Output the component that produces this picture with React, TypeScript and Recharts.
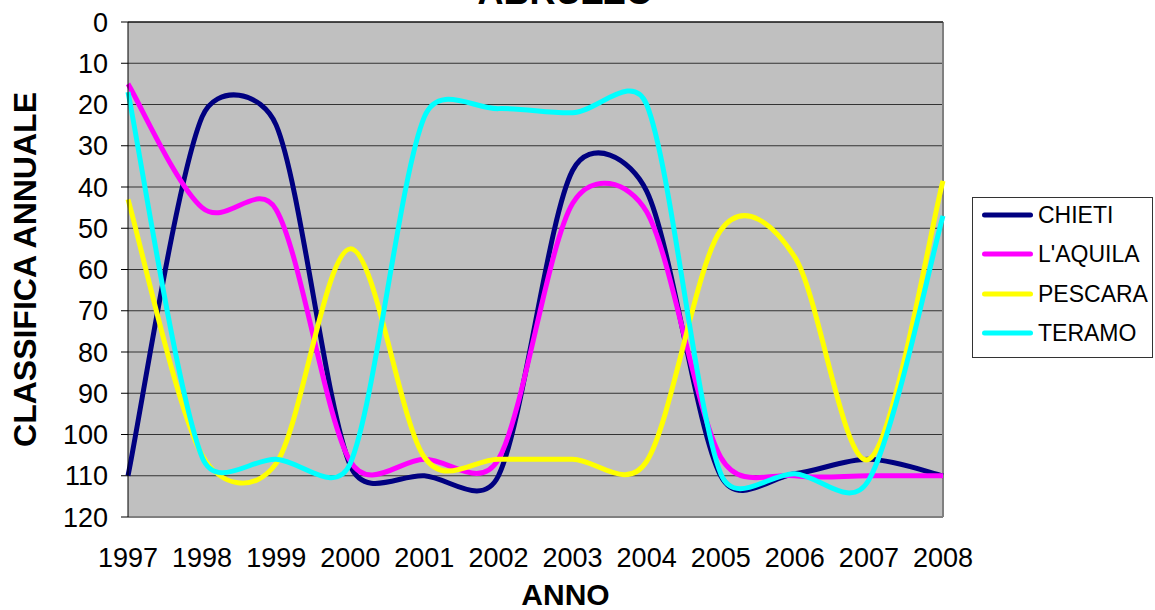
import React from 'react';
import { LineChart, Line, XAxis, YAxis, CartesianGrid, Legend, ReferenceLine } from 'recharts';

const FONT = '"Liberation Sans", Arial, Helvetica, sans-serif';

// ---- data ----
const years = ['1997', '1998', '1999', '2000', '2001', '2002', '2003', '2004', '2005', '2006', '2007', '2008'];
const chieti = [110, 23, 25, 107.5, 110, 110, 36, 41, 110, 109.5, 106, 110];
const aquila = [15, 45, 45.5, 106.5, 106, 106, 44, 46, 105.5, 110, 110, 110];
const pescara = [43, 105, 107, 55, 105.5, 106, 106, 106.5, 50.5, 57, 106, 38.5];
const teramo = [17, 105.5, 106, 107, 23, 21, 22, 20, 109.5, 109.5, 111, 47];
const yTicks = [0, 10, 20, 30, 40, 50, 60, 70, 80, 90, 100, 110, 120];
const seriesNames = ['CHIETI', "L'AQUILA", 'PESCARA', 'TERAMO'];
const seriesColors = ['#000080', '#FF00FF', '#FFFF00', '#00FFFF'];
const seriesValues = [chieti, aquila, pescara, teramo];

const data = years.map((year, i) => {
  const row: Record<string, any> = { year };
  seriesNames.forEach((n, s) => {
    row[n] = seriesValues[s][i];
  });
  return row;
});

// Excel-like smoothed line (Catmull-Rom with control-arm clamping)
function excelSmooth(context: any) {
  let pts: number[][] = [];
  const dist = (a: number[], b: number[]) => Math.hypot(b[0] - a[0], b[1] - a[1]);
  return {
    areaStart() {},
    areaEnd() {},
    lineStart() {
      pts = [];
    },
    point(x: number, y: number) {
      pts.push([+x, +y]);
    },
    lineEnd() {
      const n = pts.length;
      if (n === 0) return;
      context.moveTo(pts[0][0], pts[0][1]);
      for (let i = 0; i < n - 1; i++) {
        const p0 = pts[Math.max(0, i - 1)];
        const p1 = pts[i];
        const p2 = pts[i + 1];
        const p3 = pts[Math.min(n - 1, i + 2)];
        const d12 = dist(p1, p2);
        const d02 = dist(p0, p2);
        const d13 = dist(p1, p3);
        let f1 = 1 / 6;
        let f2 = 1 / 6;
        if (d02 > 0 && d02 / 6 >= d12 / 2) f1 = d12 / 2 / d02;
        if (d13 > 0 && d13 / 6 >= d12 / 2) f2 = d12 / 2 / d13;
        context.bezierCurveTo(
          p1[0] + f1 * (p2[0] - p0[0]),
          p1[1] + f1 * (p2[1] - p0[1]),
          p2[0] - f2 * (p3[0] - p1[0]),
          p2[1] - f2 * (p3[1] - p1[1]),
          p2[0],
          p2[1]
        );
      }
    },
  };
}

const TitleLabel = (props: any) => {
  const vb = props.viewBox || { x: 128, y: 15, width: 815, height: 7 };
  const cx = vb.x + vb.width / 2 + 30;
  return (
    <text x={cx} y={vb.y - 11} textAnchor="middle" fontSize={36} fontWeight="bold" fontFamily={FONT} fill="#000">
      ABRUZZO
    </text>
  );
};

const YTitle = (props: any) => {
  const vb = props.viewBox || { x: 0, y: 22, width: 128, height: 495 };
  const cx = vb.x + 25;
  const cy = vb.y + vb.height / 2;
  return (
    <text
      x={cx}
      y={cy}
      transform={`rotate(-90 ${cx} ${cy})`}
      textAnchor="middle"
      dominantBaseline="central"
      fontSize={32}
      fontWeight="bold"
      fontFamily={FONT}
      fill="#000"
    >
      CLASSIFICA ANNUALE
    </text>
  );
};

const XTitle = (props: any) => {
  const vb = props.viewBox || { x: 128, y: 517, width: 815, height: 93 };
  const cx = vb.x + vb.width / 2 + 30;
  return (
    <text x={cx} y={vb.y + 88} textAnchor="middle" fontSize={30} fontWeight="bold" fontFamily={FONT} fill="#000">
      ANNO
    </text>
  );
};

const LegendBox = (props: any) => {
  const payload = props.payload || [];
  return (
    <div
      style={{
        width: 181,
        height: 161,
        border: '1px solid #333',
        boxSizing: 'border-box',
        position: 'relative',
        background: '#fff',
        fontFamily: FONT,
      }}
    >
      {payload.map((p: any, i: number) => (
        <div
          key={i}
          style={{
            position: 'absolute',
            left: 9,
            top: 17 + i * 39.4 - 14,
            height: 28,
            display: 'flex',
            alignItems: 'center',
            whiteSpace: 'nowrap',
          }}
        >
          <svg width={51} height={10} style={{ display: 'block' }}>
            <line x1={2.5} y1={5} x2={48.5} y2={5} stroke={p.color} strokeWidth={5} strokeLinecap="round" />
          </svg>
          <span style={{ fontSize: 23, color: '#000', marginLeft: 5, lineHeight: '28px' }}>{p.value}</span>
        </div>
      ))}
    </div>
  );
};

export default function App() {
  return (
    <div style={{ position: 'absolute', left: 0, top: 0, width: 1155, height: 610, background: '#fff', fontFamily: FONT }}>
      <LineChart width={1155} height={610} data={data} margin={{ top: 15, right: 212, bottom: 0, left: 0 }}>
        <CartesianGrid vertical={false} stroke="#333" fill="#C0C0C0" fillOpacity={1} />
        <XAxis
          dataKey="year"
          orientation="top"
          height={7}
          tickSize={7}
          tick={false}
          interval={0}
          axisLine={{ stroke: '#000' }}
          tickLine={{ stroke: '#000' }}
          label={{ content: TitleLabel }}
        />
        <XAxis
          xAxisId="bottom"
          dataKey="year"
          orientation="bottom"
          height={93}
          tickSize={0}
          tickLine={false}
          tickMargin={31}
          interval={0}
          axisLine={{ stroke: '#808080', strokeWidth: 2 }}
          tick={{ fontSize: 27, fill: '#000', fontFamily: FONT }}
          label={{ content: XTitle }}
        />
        <YAxis
          type="number"
          domain={[0, 120]}
          reversed
          ticks={yTicks}
          interval={0}
          width={128}
          tickSize={7}
          tickMargin={13}
          axisLine={{ stroke: '#000' }}
          tickLine={{ stroke: '#000' }}
          tick={{ fontSize: 27, fill: '#000', fontFamily: FONT }}
          label={{ content: YTitle }}
        />
        <ReferenceLine x="2008" stroke="#808080" strokeWidth={2} />
        <Legend
          layout="vertical"
          align="center"
          verticalAlign="middle"
          content={LegendBox}
          wrapperStyle={{ position: 'absolute', left: 972, top: 197, width: 181, height: 161 }}
        />
        {seriesNames.map((n, s) => (
          <Line
            key={n}
            dataKey={n}
            name={n}
            type={excelSmooth as any}
            stroke={seriesColors[s]}
            strokeWidth={5}
            strokeLinejoin="round"
            dot={false}
            activeDot={false}
            isAnimationActive={false}
          />
        ))}
      </LineChart>
    </div>
  );
}
